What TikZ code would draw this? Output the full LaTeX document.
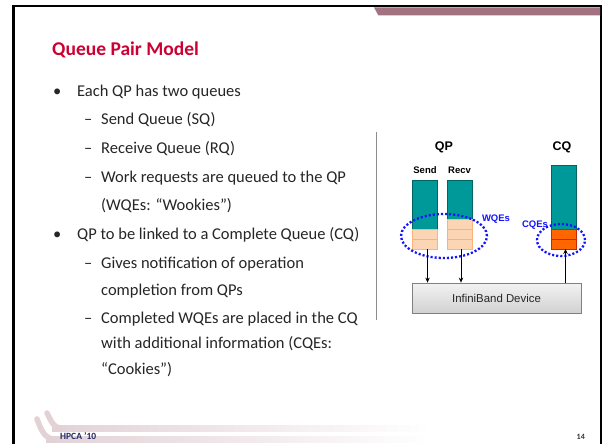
\documentclass[tikz,border=0pt]{standalone}
\usepackage{fontspec}
\setmainfont{Carlito}
\newfontfamily\arialfont{Liberation Sans}
\usetikzlibrary{arrows.meta,shapes.geometric}

\definecolor{titlered}{RGB}{204,0,51}
\definecolor{mauve}{RGB}{163,114,128}
\definecolor{qteal}{RGB}{0,153,153}
\definecolor{qtealdark}{RGB}{0,100,100}
\definecolor{peach}{RGB}{252,213,181}
\definecolor{peachline}{RGB}{250,180,120}
\definecolor{cqorange}{RGB}{255,102,0}
\definecolor{cqline}{RGB}{200,40,0}
\definecolor{ringblue}{RGB}{20,20,255}
\definecolor{footnavy}{RGB}{35,40,100}
\definecolor{sepgray}{RGB}{140,140,140}

\tikzset{
  bodytext/.style={anchor=base west, inner sep=0pt, font=\fontsize{16.5}{20}\selectfont, text=black!85},
  qbar/.style={draw=qtealdark, fill=qteal, line width=0.6pt, minimum width=25pt, inner sep=0pt, outer sep=0pt},
  wqecell/.style={draw=peachline, fill=peach, line width=0.8pt, minimum width=25pt, minimum height=10pt, inner sep=0pt, outer sep=0pt},
  cqecell/.style={draw=cqline, fill=cqorange, line width=0.8pt, minimum width=25pt, minimum height=10pt, inner sep=0pt, outer sep=0pt},
  ring/.style={draw=ringblue, ellipse, line width=2.3pt, dash pattern=on 2.1pt off 2pt, inner sep=0pt},
  panellabel/.style={font=\arialfont\bfseries\fontsize{12.5}{14}\selectfont, inner sep=0pt},
  qlabel/.style={font=\arialfont\bfseries\fontsize{9.5}{11}\selectfont, inner sep=0pt},
  ringlabel/.style={font=\arialfont\bfseries\fontsize{9.5}{11}\selectfont, text=ringblue, inner sep=0pt},
  flow/.style={-{Stealth[length=5pt,width=4.5pt]}, line width=0.8pt},
}

\begin{document}
\begin{tikzpicture}[x=1pt,y=-1pt]
\useasboundingbox (0,0) rectangle (602,444);
\fill[white] (0,0) rectangle (602,444);

% slide frame and header strip
\begin{scope}
  \clip (0,0) rectangle (602,444);
  \draw[line width=2.6pt] (13.5,6.2) rectangle (601,470);
\end{scope}
\fill[mauve] (374,7.5) -- (600,7.5) -- (600,15.5) -- (378.5,15.5) -- cycle;

% footer swooshes
\shade[left color=mauve!32, right color=white] (52,425) rectangle (430,431);
\shade[left color=mauve!32, right color=white] (46,436) rectangle (430,442);
\draw[mauve!32, line width=5.5pt, line cap=round] (47,413) .. controls (51,421) and (54,428) .. (60,428);
\draw[mauve!32, line width=5.5pt, line cap=round] (37,419) .. controls (41,430) and (45,439) .. (54,439);
\node[anchor=base west, inner sep=0pt, font=\bfseries\fontsize{9.5}{11}\selectfont, text=footnavy] (conf) at (60,439) {HPCA '10};
\node[anchor=base east, inner sep=0pt, font=\bfseries\fontsize{8}{10}\selectfont, text=black!80] (pageno) at (585,439) {14};

% title
\node[anchor=base west, inner sep=0pt, font=\bfseries\fontsize{19.5}{24}\selectfont, text=titlered] (title) at (52,56) {Queue Pair Model};

% bullet list
\node[bodytext] (b1m) at (53,96) {•};
\node[bodytext] (b1) at (77,96) {Each QP has two queues};
\node[bodytext] (s1m) at (84,124) {–};
\node[bodytext] (s1) at (101,124) {Send Queue (SQ)};
\node[bodytext] (s2m) at (84,153) {–};
\node[bodytext] (s2) at (101,153) {Receive Queue (RQ)};
\node[bodytext] (s3m) at (84,182) {–};
\node[bodytext] (s3) at (101,182) {Work requests are queued to the QP};
\node[bodytext] (s3b) at (101,210) {(WQEs: “Wookies”)};
\node[bodytext] (b2m) at (53,239) {•};
\node[bodytext] (b2) at (77,239) {QP to be linked to a Complete Queue (CQ)};
\node[bodytext] (s4m) at (84,268) {–};
\node[bodytext] (s4) at (101,268) {Gives notification of operation};
\node[bodytext] (s4b) at (101,295) {completion from QPs};
\node[bodytext] (s5m) at (84,323) {–};
\node[bodytext] (s5) at (101,323) {Completed WQEs are placed in the CQ};
\node[bodytext] (s5b) at (101,348) {with additional information (CQEs:};
\node[bodytext] (s5c) at (101,374) {“Cookies”)};

% separator
\draw[sepgray, line width=1pt] (376,132) -- (376,320);

% queue pair and completion queue
\node[panellabel] (qp) at (444,147) {QP};
\node[panellabel] (cq) at (562,147) {CQ};
\node[qlabel] (sendlbl) at (425,170) {Send};
\node[qlabel] (recvlbl) at (459.5,170) {Recv};

\node[qbar, minimum height=49pt] (sendq) at (424.5,204.5) {};
\node[wqecell] (send1) at (424.5,234) {};
\node[wqecell] (send2) at (424.5,244) {};

\node[qbar, minimum height=39pt] (recvq) at (459.5,199.5) {};
\node[wqecell] (recv1) at (459.5,224) {};
\node[wqecell] (recv2) at (459.5,234) {};
\node[wqecell] (recv3) at (459.5,244) {};

\node[qbar, minimum height=64pt] (cqq) at (563.5,197) {};
\node[cqecell] (cq1) at (563.5,234) {};
\node[cqecell] (cq2) at (563.5,244) {};

\node[ring, minimum width=86pt, minimum height=44pt] (wqering) at (444,236) {};
\node[ring, minimum width=48pt, minimum height=32pt] (cqering) at (561,240) {};
\node[ringlabel] (wqelbl) at (496,219) {WQEs};
\node[ringlabel] (cqelbl) at (535,225) {CQEs};

% device
\node[draw=black!50, top color=black!5, bottom color=black!18, line width=0.8pt,
      minimum width=169pt, minimum height=30pt, inner sep=0pt,
      font=\arialfont\fontsize{11.4}{13}\selectfont, text=black!85] (device) at (496.5,298) {InfiniBand Device};

\draw[flow] ([xshift=3pt]send2.south) -- ([xshift=3pt]send2.south |- device.north);
\draw[flow] ([xshift=1.5pt]recv3.south) -- ([xshift=1.5pt]recv3.south |- device.north);
\draw[flow] ([xshift=2pt]cq2.south |- device.north) -- ([xshift=2pt]cq2.south);
\end{tikzpicture}
\end{document}
